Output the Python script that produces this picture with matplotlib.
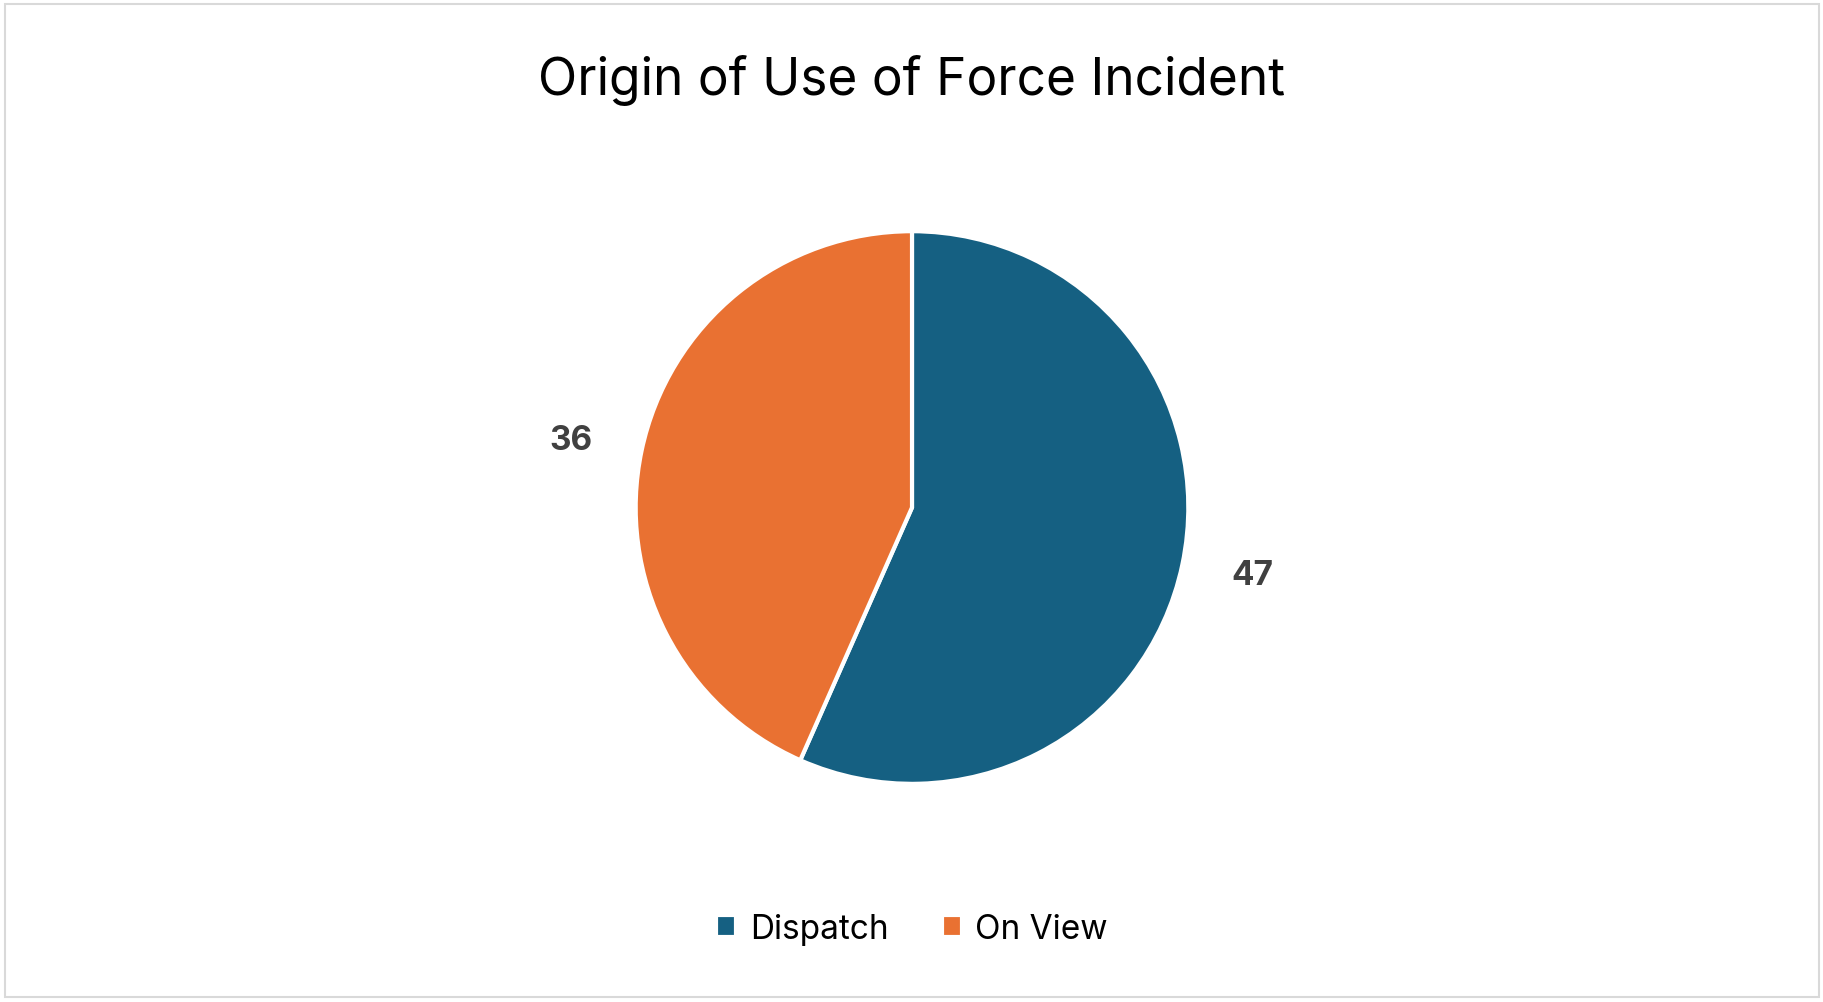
import matplotlib
matplotlib.use("Agg")
import matplotlib.pyplot as plt
from matplotlib.patches import Rectangle

categories = ["Dispatch", "On View"]
values = [47, 36]
colors = ["#156082", "#E97132"]

plt.rcParams['font.family'] = ['Inter', 'DejaVu Sans']
fig = plt.figure(figsize=(18.24, 10.03), dpi=100)
fig.patches.append(Rectangle((0.003, 0.005), 0.994, 0.99, transform=fig.transFigure,
                             fill=False, edgecolor="#D9D9D9", linewidth=1.5))

h = 0.562
w = h * 1003 / 1824
ax = fig.add_axes([0.5 - w / 2, 0.493 - h / 2, w, h])
wedges, texts = ax.pie(values, colors=colors, startangle=90, counterclock=False,
                       labels=[str(v) for v in values], labeldistance=1.18,
                       wedgeprops=dict(edgecolor="white", linewidth=3),
                       textprops=dict(fontsize=24, fontweight="bold", color="#404040"))
ax.set_xlim(-1.02, 1.02); ax.set_ylim(-1.02, 1.02)
ax.set_aspect("equal")

fig.text(0.5, 0.92, "Origin of Use of Force Incident", ha="center", va="center",
         fontsize=37, color="black")
fig.legend(wedges, categories, loc="center", bbox_to_anchor=(0.5, 0.073), ncol=2,
           frameon=False, fontsize=24, handlelength=0.6, handleheight=0.6,
           handletextpad=0.4, columnspacing=1.6)
fig.savefig("out.png", dpi=100)
